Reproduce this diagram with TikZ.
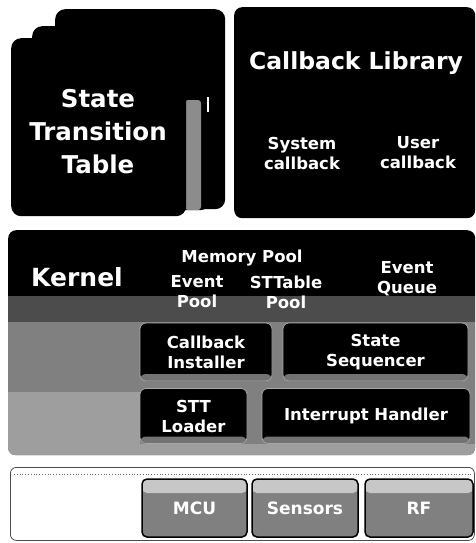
\documentclass[tikz,border=0pt]{standalone}
\usepackage{fontspec}
\setmainfont{DejaVu Sans}
\begin{document}
\begin{tikzpicture}[x=1pt,y=-1pt,
  card/.style={fill=black, draw=none, rounded corners=10pt, anchor=north west, inner sep=0pt},
  blk/.style={fill=black, rounded corners=8pt, anchor=north west, inner sep=0pt},
  big/.style={text=white, font=\bfseries\fontsize{24.5}{33}\selectfont, align=center, inner sep=0pt},
  small/.style={text=white, font=\bfseries\fontsize{16.5}{20}\selectfont, align=center, inner sep=0pt},
  subbox/.style={fill=black, draw=black!35, line width=0.8pt, rounded corners=6pt, inner sep=0pt,
    text=white, font=\bfseries\fontsize{16.5}{20}\selectfont, align=center,
    path picture={\fill[black!55] ([yshift=7pt]path picture bounding box.south west) rectangle (path picture bounding box.south east);}},
  hwbox/.style={fill=black!50, draw=black, line width=1.5pt, rounded corners=5pt, inner sep=0pt,
    text=white, font=\bfseries\fontsize{17}{20}\selectfont,
    path picture={\fill[black!22] (path picture bounding box.north west) rectangle ([yshift=-14pt]path picture bounding box.north east);}}
]
\useasboundingbox (0,0) rectangle (476,543);

% State transition table stack
\node[card, minimum width=170pt, minimum height=200pt] (stt3) at (55,9) {};
\node[card, minimum width=178pt, minimum height=184pt] (stt2) at (32,26) {};
\fill[black!45, rounded corners=3pt] (185,100) rectangle (201,210);
\fill[white] (207,97) rectangle (209,112);
\node[card, minimum width=175pt, minimum height=178pt] (stt1) at (11,38) {};
\node[big] (sttl) at (98,132) {State\\Transition\\Table};

% Callback library
\node[blk, minimum width=241pt, minimum height=211pt] (cblib) at (234,7) {};
\node[big, font=\bfseries\fontsize{23.5}{28}\selectfont] (cbt) at (356,63) {Callback Library};
\node[small] (sysc) at (302,153) {System\\callback};
\node[small] (usrc) at (418,153) {User\\callback};

% Kernel
\node[blk, minimum width=467pt, minimum height=225pt] (kernel) at (8,230) {};
\begin{scope}
  \clip[rounded corners=8pt] (kernel.north west) rectangle (kernel.south east);
  \fill[black!70] (8,296) rectangle (475,322);
  \fill[black!50] (8,322) rectangle (475,455);
  \fill[black!38] (8,392) rectangle (140,455);
  \fill[black!38] (8,444) rectangle (475,455);
\end{scope}
\node[big, font=\bfseries\fontsize{25}{28}\selectfont] (kern) at (77,277) {Kernel};
\node[small] (mp) at (242,258) {Memory Pool};
\node[small] (evp) at (197,292) {Event\\Pool};
\node[small] (stp) at (286,292) {STTable\\Pool};
\node[small] (evq) at (407,279) {Event\\Queue};

\node[subbox, minimum width=132pt, minimum height=58pt] (cbi) at (206,352) {Callback\\Installer};
\node[subbox, minimum width=185pt, minimum height=58pt] (seq) at (375.5,352) {State\\Sequencer};
\node[subbox, minimum width=107pt, minimum height=55pt] (ldr) at (193.5,416) {STT\\Loader};
\node[subbox, minimum width=208pt, minimum height=55pt] (irq) at (366,416) {Interrupt Handler};

% Hardware
\node[draw=black!70, line width=0.8pt, fill=white, rounded corners=6pt, anchor=north west, inner sep=0pt,
      minimum width=464pt, minimum height=73pt] (hw) at (10,467) {};
\draw[black!60, dotted, line width=0.8pt] ([xshift=4pt,yshift=-7pt]hw.north west) -- ([xshift=-4pt,yshift=-7pt]hw.north east);
\node[hwbox, minimum width=105pt, minimum height=58pt] (mcu) at (194.5,508) {MCU};
\node[hwbox, minimum width=106pt, minimum height=58pt] (sens) at (305,508) {Sensors};
\node[hwbox, minimum width=108pt, minimum height=58pt] (rf) at (419,508) {RF};
\end{tikzpicture}
\end{document}
